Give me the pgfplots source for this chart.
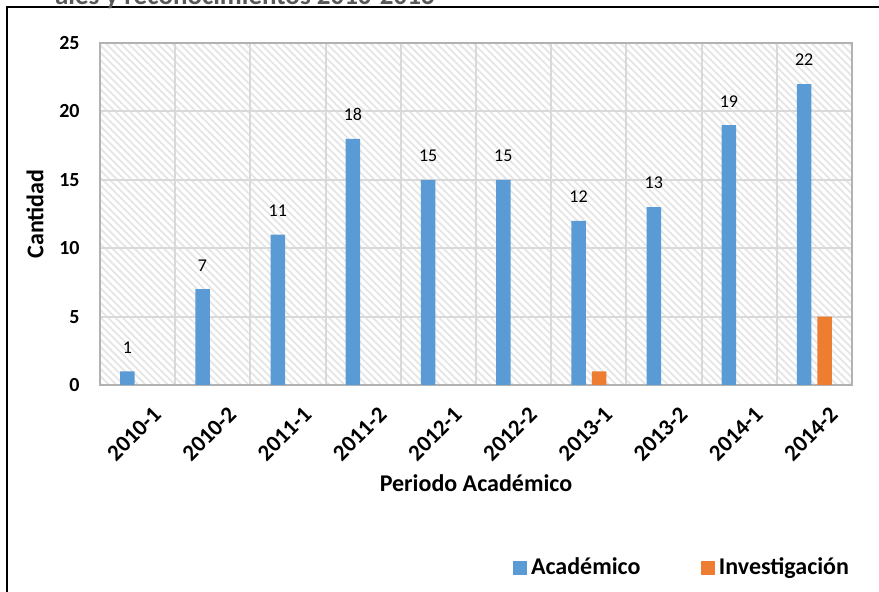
\documentclass[border=0pt]{standalone}
\usepackage{fontspec}
\setmainfont{Carlito}
\usepackage{pgfplots}
\pgfplotsset{compat=1.18}
\usetikzlibrary{patterns.meta}
\definecolor{acad}{HTML}{5B9BD5}
\definecolor{inv}{HTML}{ED7D31}
\definecolor{gridc}{HTML}{D9D9D9}
\definecolor{titlec}{HTML}{595959}
\pgfplotsset{sqlegend/.style={legend image code/.code={\path[##1, draw=none] (0pt,-3.6pt) rectangle (7.2pt,3.6pt);}}}
\begin{document}
\begin{tikzpicture}
\useasboundingbox (0pt,0pt) rectangle (439.5pt,-296pt);
\clip (0pt,0pt) rectangle (439.5pt,-296pt);
% outer frame (runs past the right and bottom edges)
\draw[line width=1pt] (3.5pt,-310pt) -- (3.5pt,-3.5pt) -- (460pt,-3.5pt);
% title, cut off at the top
\node[anchor=base east, inner sep=0pt, text=titlec, font=\bfseries\fontsize{13.5}{16}\selectfont] at (217.5pt,-2.5pt) {ales y reconocimientos 2010-2016};
\begin{axis}[
    at={(50pt,-192.5pt)}, anchor=south west,
    scale only axis, width=376pt, height=171pt,
    ybar=3pt, bar width=7.25pt,
    xmin=-0.5, xmax=9.5, ymin=0, ymax=25,
    xtick={0,...,9},
    xticklabels={2010-1,2010-2,2011-1,2011-2,2012-1,2012-2,2013-1,2013-2,2014-1,2014-2},
    minor xtick={-0.5,0.5,...,9.5},
    ytick={0,5,...,25},
    xminorgrids=true, ymajorgrids=true,
    grid style={draw=gridc, line width=1pt},
    minor grid style={draw=gridc, line width=1pt},
    major tick length=0pt, minor tick length=0pt,
    axis line style={draw=gray!60, line width=0.8pt},
    axis background/.style={pattern={Lines[angle=-45,distance=2.6pt,line width=0.9pt]}, pattern color=gray!20},
    /pgf/number format/assume math mode=true,
    tick label style={font=\bfseries\fontsize{10}{12}\selectfont},
    yticklabel style={inner sep=0pt, xshift=-10pt},
    xticklabel style={rotate=45, anchor=north east, inner sep=0pt, xshift=-2pt, yshift=-12pt,
        font=\bfseries\fontsize{11.5}{13.5}\selectfont},
    xlabel={Periodo Académico}, ylabel={Cantidad},
    label style={font=\bfseries\fontsize{12}{14}\selectfont},
    xlabel style={at={(axis description cs:0.5,-0.2865)}, anchor=center},
    ylabel style={at={(axis description cs:-0.0864,0.5)}, anchor=center},
    legend style={at={(axis description cs:0.775,-0.535)}, anchor=center, draw=none, fill=none,
        font=\bfseries\fontsize{12}{14}\selectfont,
        /tikz/every even column/.append style={column sep=28pt}},
    legend columns=2,
]
\addplot[fill=acad, draw=none, sqlegend, nodes near coords,
    every node near coord/.append style={font=\fontsize{9}{11}\selectfont, text=black, anchor=south, yshift=5.5pt}]
    coordinates {(0,1) (1,7) (2,11) (3,18) (4,15) (5,15) (6,12) (7,13) (8,19) (9,22)};
\addplot[fill=inv, draw=none, sqlegend]
    coordinates {(6,1) (9,5)};
\legend{Académico, Investigación}
\end{axis}
\end{tikzpicture}
\end{document}
